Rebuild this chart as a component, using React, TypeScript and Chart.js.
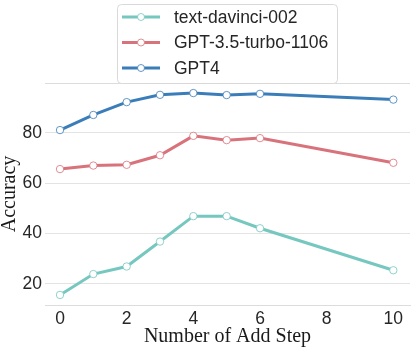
import React, { useEffect, useRef } from "react";
import { Chart, registerables } from "chart.js";
Chart.register(...registerables);

const steps = [0, 1, 2, 3, 4, 5, 6, 10];
const davinci = [15.6, 23.9, 26.9, 36.8, 46.9, 46.9, 42.1, 25.4];
const gpt35 = [65.6, 67.0, 67.3, 71.1, 78.8, 77.1, 77.9, 68.1];
const gpt4 = [81.1, 87.1, 92.2, 95.1, 95.8, 95.0, 95.5, 93.2];
const seriesNames = ["text-davinci-002", "GPT-3.5-turbo-1106", "GPT4"];
const seriesColors = ["#76c7bf", "#d8737c", "#3b7db8"];
const xTicks = [0, 2, 4, 6, 8, 10];
const yTicks = [20, 40, 60, 80];

const frameLines = {
  id: "frameLines",
  beforeDatasetsDraw(chart: any) {
    const { ctx, chartArea } = chart;
    ctx.save();
    ctx.strokeStyle = "#dcdcdc";
    ctx.lineWidth = 1;
    ctx.beginPath();
    ctx.moveTo(chartArea.left, Math.round(chartArea.top) + 0.5);
    ctx.lineTo(chartArea.right, Math.round(chartArea.top) + 0.5);
    ctx.stroke();
    ctx.restore();
  },
};

const boxLegend = {
  id: "boxLegend",
  afterDraw(chart: any) {
    const ctx = chart.ctx;
    ctx.save();
    const x0 = 117.5, y0 = 4.5, w = 220, h = 79;
    ctx.beginPath();
    (ctx as any).roundRect(x0, y0, w, h, 4);
    ctx.fillStyle = "rgba(255,255,255,0.85)";
    ctx.fill();
    ctx.strokeStyle = "#d9d9d9";
    ctx.lineWidth = 1;
    ctx.stroke();
    chart.data.datasets.forEach((ds: any, i: number) => {
      const cy = 17 + i * 25.5;
      ctx.strokeStyle = ds.borderColor;
      ctx.lineWidth = 3;
      ctx.lineCap = "butt";
      ctx.beginPath();
      ctx.moveTo(122, cy);
      ctx.lineTo(160, cy);
      ctx.stroke();
      ctx.beginPath();
      ctx.arc(141, cy, 3.5, 0, Math.PI * 2);
      ctx.fillStyle = "#ffffff";
      ctx.fill();
      ctx.lineWidth = 1;
      ctx.strokeStyle = ds.pointBorderColor;
      ctx.stroke();
      ctx.fillStyle = "#262626";
      ctx.font = "17.5px 'Liberation Sans', Arial, sans-serif";
      ctx.textBaseline = "middle";
      ctx.textAlign = "left";
      ctx.fillText(ds.label, 174, cy + 1);
    });
    ctx.restore();
  },
};

export default function App() {
  const ref = useRef<HTMLCanvasElement | null>(null);
  useEffect(() => {
    if (!ref.current) return;
    const series = [davinci, gpt35, gpt4];
    const chart = new Chart(ref.current, {
      type: "line",
      data: {
        datasets: series.map((vals, i) => ({
          label: seriesNames[i],
          data: steps.map((x, j) => ({ x, y: vals[j] })),
          borderColor: seriesColors[i],
          borderWidth: 3,
          pointRadius: 3.7,
          pointBackgroundColor: "#ffffff",
          pointBorderColor: seriesColors[i] + "cc",
          pointBorderWidth: 1,
          tension: 0,
          fill: false,
        })),
      },
      options: {
        animation: false,
        responsive: true,
        maintainAspectRatio: false,
        layout: { padding: { top: 83, right: 5, left: 0, bottom: 0 } },
        plugins: { legend: { display: false }, tooltip: { enabled: false } },
        scales: {
          x: {
            type: "linear",
            min: -0.45,
            max: 10.5,
            afterBuildTicks: (s: any) => {
              s.ticks = xTicks.map((v) => ({ value: v }));
            },
            afterFit: (s: any) => {
              s.height = 44;
            },
            grid: { display: true, color: "rgba(0,0,0,0)", drawTicks: false },
            border: { display: true, color: "#dcdcdc", width: 1 },
            ticks: {
              padding: 4,
              color: "#262626",
              font: { family: "'Liberation Sans', Arial, sans-serif", size: 17.5 },
              maxRotation: 0,
            },
            title: {
              display: true,
              text: "Number of Add Step",
              color: "#1a1a1a",
              font: { family: "'Liberation Serif', 'Times New Roman', serif", size: 20 },
              padding: 0,
            },
          },
          y: {
            min: 11.6,
            max: 99.8,
            afterBuildTicks: (s: any) => {
              s.ticks = yTicks.map((v) => ({ value: v }));
            },
            afterFit: (s: any) => {
              s.width = 45;
            },
            grid: { color: "#e3e3e3", lineWidth: 1, drawTicks: false },
            border: { display: false },
            ticks: {
              padding: 3,
              color: "#262626",
              font: { family: "'Liberation Sans', Arial, sans-serif", size: 17.5 },
            },
            title: {
              display: true,
              text: "Accuracy",
              color: "#1a1a1a",
              font: { family: "'Liberation Serif', 'Times New Roman', serif", size: 20, lineHeight: 1 },
              padding: 0,
            },
          },
        },
      },
      plugins: [frameLines, boxLegend],
    } as any);
    return () => chart.destroy();
  }, []);
  return (
    <div style={{ position: "absolute", left: 0, top: 0, width: 415, height: 349, background: "#fff" }}>
      <canvas ref={ref} />
    </div>
  );
}
